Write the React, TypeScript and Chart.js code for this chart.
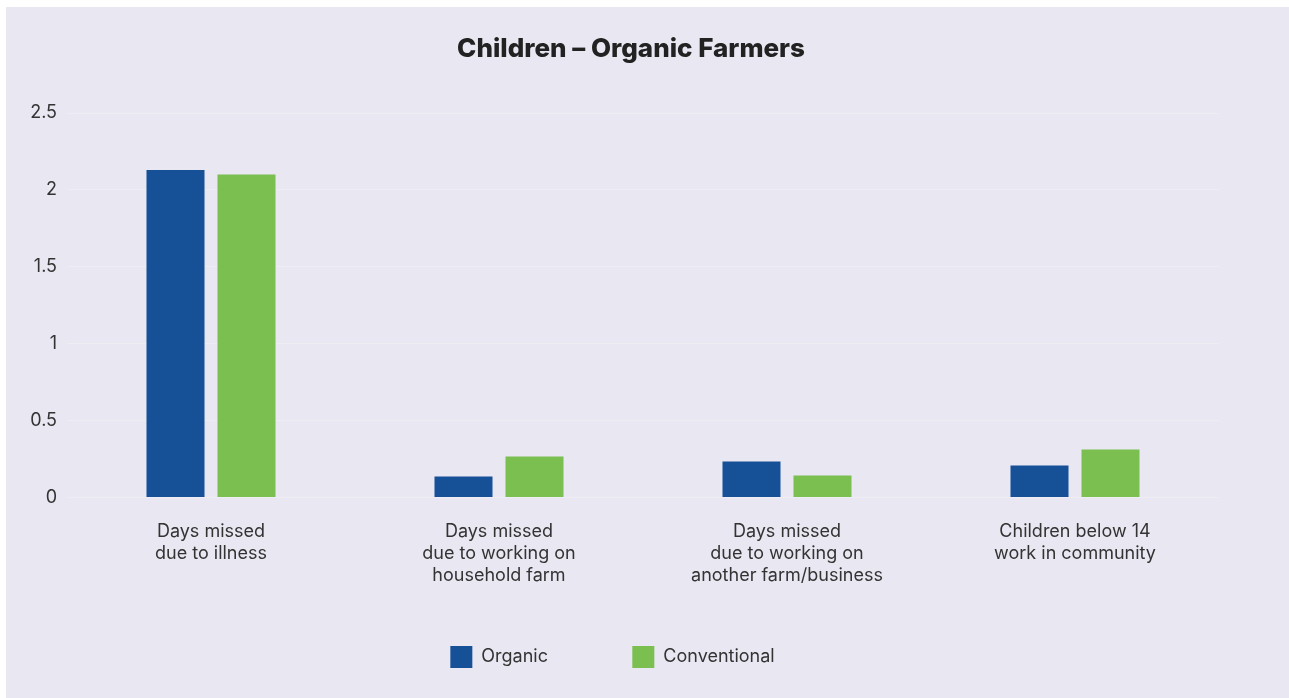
import React, { useEffect, useRef } from "react";
import { Chart, registerables } from "chart.js";

Chart.register(...registerables);

const categories: string[][] = [
  ["Days missed", "due to illness"],
  ["Days missed", "due to working on", "household farm"],
  ["Days missed", "due to working on", "another farm/business"],
  ["Children below 14", "work in community"],
];
const organicValues = [2.13, 0.136, 0.234, 0.208];
const conventionalValues = [2.1, 0.266, 0.143, 0.312];
const seriesNames = ["Organic", "Conventional"];
const titleText = "Children – Organic Farmers";
const yMin = 0;
const yMax = 2.5;
const yStep = 0.5;

const BLUE = "#165097";
const GREEN = "#7BBF50";
const BG = "#E9E7F2";
const FONT = "Inter, 'Noto Sans', sans-serif";

export default function App() {
  const ref = useRef<HTMLCanvasElement | null>(null);

  useEffect(() => {
    if (!ref.current) return;
    const titleNudge = {
      id: "titleNudge",
      afterLayout(chart: any) {
        const t = chart.titleBlock;
        if (t) {
          t.left += 18.5;
          t.right += 18.5;
        }
      },
    };
    const chart = new Chart(ref.current, {
      type: "bar",
      data: {
        labels: categories,
        datasets: [
          {
            label: seriesNames[0],
            data: organicValues,
            backgroundColor: BLUE,
            borderWidth: 0,
            categoryPercentage: 0.493,
            barPercentage: 0.817,
          },
          {
            label: seriesNames[1],
            data: conventionalValues,
            backgroundColor: GREEN,
            borderWidth: 0,
            categoryPercentage: 0.493,
            barPercentage: 0.817,
          },
        ],
      },
      options: {
        animation: false,
        responsive: true,
        maintainAspectRatio: false,
        layout: { padding: { left: 0, right: 70, top: 0, bottom: 20 } },
        plugins: {
          title: {
            display: true,
            text: titleText,
            color: "#222222",
            font: { family: FONT, size: 26, weight: 800, lineHeight: 1.2 },
            padding: { top: 26.4, bottom: 48.4 },
          },
          legend: {
            position: "bottom",
            labels: {
              boxWidth: 22,
              boxHeight: 22,
              padding: 59,
              color: "#333333",
              font: { family: FONT, size: 18 },
              generateLabels(chart: any) {
                const items = Chart.defaults.plugins.legend.labels.generateLabels(chart);
                return items.map((it: any, i: number) =>
                  i < items.length - 1 ? { ...it, text: it.text + "     " } : it
                );
              },
            },
          },
          tooltip: { enabled: false },
        },
        scales: {
          x: {
            type: "category",
            offset: true,
            grid: { display: false, drawTicks: false },
            border: { display: false },
            ticks: {
              color: "#333333",
              padding: 23.5,
              maxRotation: 0,
              autoSkip: false,
              font: { family: FONT, size: 18, lineHeight: 1.22 },
            },
            afterFit(scale: any) {
              scale.height = 89.5;
            },
          },
          y: {
            min: yMin,
            max: yMax,
            border: { display: false },
            grid: { color: "#EEEDF4", drawTicks: false, lineWidth: 1 },
            ticks: {
              stepSize: yStep,
              color: "#333333",
              padding: 10,
              font: { family: FONT, size: 18 },
              callback: (v: any) => String(Number(v)),
            },
            afterFit(scale: any) {
              scale.width = 61;
            },
          },
        },
      },
      plugins: [titleNudge],
    });
    return () => chart.destroy();
  }, []);

  return (
    <div
      style={{
        position: "absolute",
        left: 6,
        top: 7,
        width: 1283,
        height: 691,
        background: BG,
      }}
    >
      <canvas ref={ref} />
    </div>
  );
}
